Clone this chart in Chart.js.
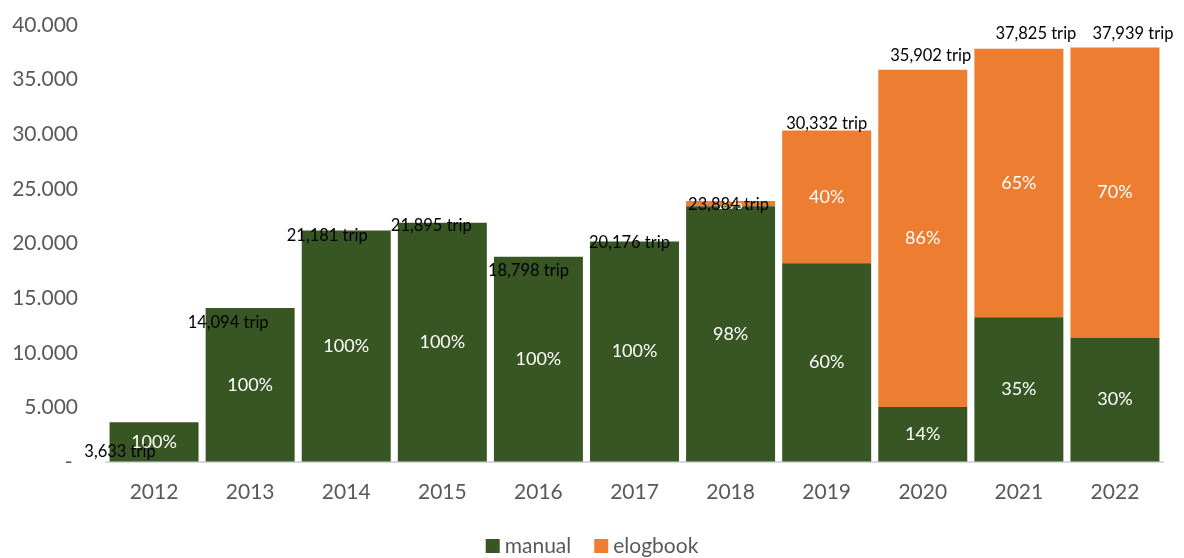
<!DOCTYPE html>
<html>
<head>
<meta charset="utf-8">
<script src="https://cdn.jsdelivr.net/npm/chart.js@4.4.1/dist/chart.umd.min.js"></script>
<style>
  html, body { margin: 0; padding: 0; background: #fff; }
  #wrap { width: 1184px; height: 558px; position: relative; }
</style>
</head>
<body>
<div id="wrap"><canvas id="tripChart"></canvas></div>
<script>
var years = ['2012', '2013', '2014', '2015', '2016', '2017', '2018', '2019', '2020', '2021', '2022'];
var totalTrips = [3633, 14094, 21181, 21895, 18798, 20176, 23884, 30332, 35902, 37825, 37939];
var manualShare = [100, 100, 100, 100, 100, 100, 98, 60, 14, 35, 30];
var elogbookShare = [0, 0, 0, 0, 0, 0, 2, 40, 86, 65, 70];

var manualTrips = totalTrips.map(function(t, i) { return t * manualShare[i] / 100; });
var elogbookTrips = totalTrips.map(function(t, i) { return t * elogbookShare[i] / 100; });

var GREEN = '#375623';
var ORANGE = '#ED7D31';
var GREY = '#595959';
var FONT = 'Lato, "Open Sans", sans-serif';

// percentage inside each segment, total trips over each bar
var barLabels = {
    id: 'barLabels',
    afterDatasetsDraw: function(chart, args, opts) {
        var ctx = chart.ctx;
        var shares = [manualShare, elogbookShare];
        ctx.save();
        ctx.textAlign = 'center';
        ctx.textBaseline = 'middle';
        ctx.fillStyle = '#fff';
        ctx.font = '18px ' + FONT;
        chart.data.datasets.forEach(function(ds, d) {
            chart.getDatasetMeta(d).data.forEach(function(bar, i) {
                if (!shares[d][i]) return;
                ctx.fillText(shares[d][i] + '%', bar.x, (bar.y + bar.base) / 2);
            });
        });

        ctx.fillStyle = '#000';
        ctx.font = '16.5px ' + FONT;
        var y = chart.scales.y;
        var meta = chart.getDatasetMeta(0);
        totalTrips.forEach(function(t, i) {
            var x = meta.data[i].x + opts.dx[i];
            ctx.fillText(t.toLocaleString('en-US') + ' trip', x, y.getPixelForValue(t) + opts.dy[i]);
        });
        ctx.restore();
    }
};

var bottomLegend = {
    id: 'bottomLegend',
    afterDraw: function(chart) {
        var ctx = chart.ctx;
        var items = chart.data.datasets.map(function(ds) { return { text: ds.label, color: ds.backgroundColor }; });
        ctx.save();
        ctx.font = '21px ' + FONT;
        ctx.textBaseline = 'middle';
        var box = 14, gap = 5, spacing = 23;
        var total = 0;
        items.forEach(function(it, k) {
            it.w = ctx.measureText(it.text).width;
            total += box + gap + it.w + (k ? spacing : 0);
        });
        var x = chart.width / 2 - total / 2;
        var cy = 546;
        items.forEach(function(it) {
            ctx.fillStyle = it.color;
            ctx.fillRect(x, cy - box / 2, box, box);
            ctx.fillStyle = GREY;
            ctx.fillText(it.text, x + box + gap, cy);
            x += box + gap + it.w + spacing;
        });
        ctx.restore();
    }
};

function intializeTripChart() {
    var ctx = document.getElementById('tripChart');
    var tripChart = new Chart(ctx, {
        type: 'bar',
        data: {
            labels: years,
            datasets: [{
                label: 'manual',
                data: manualTrips,
                backgroundColor: GREEN
            }, {
                label: 'elogbook',
                data: elogbookTrips,
                backgroundColor: ORANGE
            }]
        },
        plugins: [barLabels, bottomLegend],
        options: {
            responsive: true,
            maintainAspectRatio: false,
            animation: false,
            datasets: {
                bar: { barPercentage: 0.926, categoryPercentage: 1.0 }
            },
            layout: { padding: { top: 25, right: 21, bottom: 0, left: 0 } },
            scales: {
                x: {
                    stacked: true,
                    grid: { display: false, drawTicks: false },
                    border: { display: true, color: '#D9D9D9', width: 2 },
                    ticks: { color: GREY, font: { family: FONT, size: 21 }, padding: 18 },
                    afterFit: function(scale) { scale.height = 96; }
                },
                y: {
                    stacked: true,
                    min: 0,
                    max: 40000,
                    // invisible tick marks keep the labels away from the bars
                    grid: { display: true, drawOnChartArea: false, drawTicks: true, tickLength: 28, color: 'transparent' },
                    border: { display: false },
                    ticks: {
                        stepSize: 5000,
                        color: GREY,
                        padding: 0,
                        font: { family: FONT, size: 21 },
                        callback: function(v) {
                            if (v === 0) return '- ';
                            return v.toLocaleString('en-US').replace(/,/g, '.');
                        }
                    },
                    afterFit: function(scale) { scale.width = 106; }
                }
            },
            plugins: {
                legend: { display: false },
                tooltip: { enabled: false },
                barLabels: {
                    dx: [-34, -22, -19, -11, -10, -5, -2, 0, 8, 17, 18],
                    dy: [29, 15, 5, 3, 14, 1, 4, -7, -14, -15, -14]
                }
            }
        }
    });
}

intializeTripChart();
</script>
</body>
</html>
